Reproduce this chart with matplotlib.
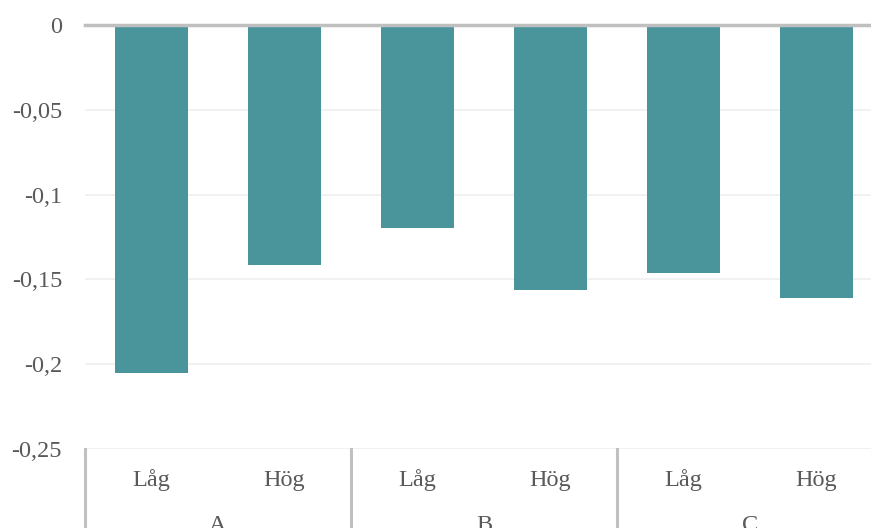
import matplotlib
matplotlib.use("Agg")
import matplotlib.pyplot as plt
from matplotlib.lines import Line2D

groups = ["A", "B", "C"]
levels = ["Låg", "Hög"]
values = [-0.205, -0.1415, -0.1197, -0.1563, -0.1462, -0.161]
yticks = [0, -0.05, -0.1, -0.15, -0.2, -0.25]
ytick_labels = ["0", "-0,05", "-0,1", "-0,15", "-0,2", "-0,25"]

plt.rcParams["font.family"] = ["Liberation Serif", "DejaVu Serif"]
TEXT = "#595959"
FS = 17.5

W, H = 871, 528
fig = plt.figure(figsize=(W / 100, H / 100), dpi=100)
left, right = 85 / W, 883 / W
bottom, top = 1 - 449 / H, 1 - 25 / H
ax = fig.add_axes([left, bottom, right - left, top - bottom])

x = list(range(len(values)))
ax.bar(x, values, width=0.555, color="#4a949c", zorder=3)

ax.set_xlim(-0.5, len(values) - 0.5)
ax.set_ylim(-0.25, 0)
ax.set_yticks(yticks)
ax.set_yticklabels(ytick_labels, fontsize=FS, color=TEXT)
ax.tick_params(axis="y", length=0, pad=16.5)
ax.set_xticks([])
for s in ax.spines.values():
    s.set_visible(False)

for t in yticks[1:]:
    ax.axhline(t, color="#efefef", lw=1.2, zorder=1)
ax.axhline(0, color="#bfbfbf", lw=2.5, zorder=4, clip_on=False)

# category labels under the axis (two levels)
blend = ax.get_xaxis_transform()
for i, v in enumerate(values):
    fig.text(left + (right - left) * (i + 0.5) / len(values), 1 - 486 / H,
             levels[i % 2], ha="center", va="baseline", fontsize=FS, color=TEXT)
for g, name in enumerate(groups):
    fig.text(left + (right - left) * (2 * g + 1) / len(values), 1 - 531 / H,
             name, ha="center", va="baseline", fontsize=FS, color=TEXT)

# group separators
for g in range(len(groups) + 1):
    xf = left + (right - left) * (2 * g) / len(values)
    fig.add_artist(Line2D([xf, xf], [0, bottom], color="#c0c0c0", lw=2.2,
                          transform=fig.transFigure))

fig.savefig("out.png", dpi=100)
